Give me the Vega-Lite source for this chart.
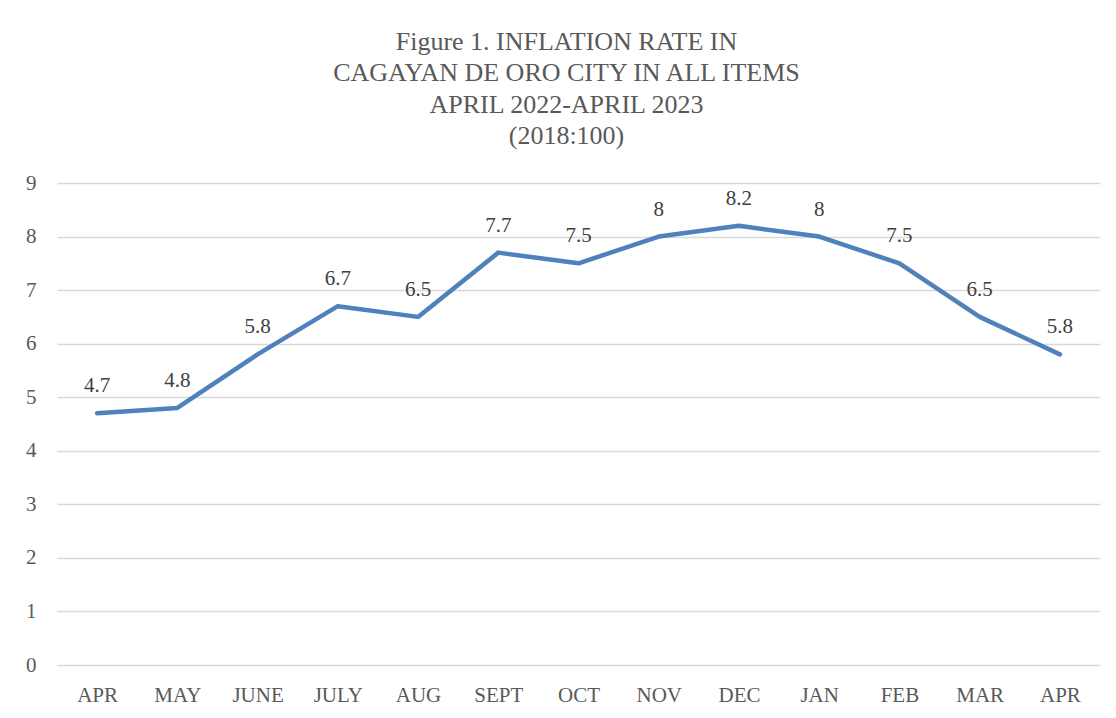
{
  "$schema": "https://vega.github.io/schema/vega-lite/v6.json",
  "width": 1043,
  "height": 482,
  "autosize": {"type": "none"},
  "padding": {"left": 57, "top": 183, "right": 16, "bottom": 53},
  "background": "white",
  "title": {
    "text": ["Figure 1. INFLATION RATE IN", "CAGAYAN DE ORO CITY IN ALL ITEMS", "APRIL 2022-APRIL 2023", "(2018:100)"],
    "font": "Liberation Serif",
    "fontSize": 26,
    "fontWeight": "normal",
    "color": "#595959",
    "lineHeight": 31.5,
    "anchor": "middle",
    "dx": -12,
    "offset": 23
  },
  "data": {
    "values": [
      {"month": "APR-22", "rate": 4.7},
      {"month": "MAY", "rate": 4.8},
      {"month": "JUNE", "rate": 5.8},
      {"month": "JULY", "rate": 6.7},
      {"month": "AUG", "rate": 6.5},
      {"month": "SEPT", "rate": 7.7},
      {"month": "OCT", "rate": 7.5},
      {"month": "NOV", "rate": 8},
      {"month": "DEC", "rate": 8.2},
      {"month": "JAN", "rate": 8},
      {"month": "FEB", "rate": 7.5},
      {"month": "MAR", "rate": 6.5},
      {"month": "APR-23", "rate": 5.8}
    ]
  },
  "encoding": {
    "x": {
      "field": "month",
      "type": "ordinal",
      "sort": null,
      "scale": {"type": "point", "padding": 0.5},
      "axis": {
        "title": null,
        "labelAngle": 0,
        "labelExpr": "split(datum.label, '-')[0]",
        "labelFont": "Liberation Serif",
        "labelFontSize": 21,
        "labelColor": "#595959",
        "labelPadding": 19,
        "ticks": false,
        "domain": false,
        "grid": false
      }
    },
    "y": {
      "field": "rate",
      "type": "quantitative",
      "scale": {"domain": [0, 9], "nice": false},
      "axis": {
        "title": null,
        "values": [0, 1, 2, 3, 4, 5, 6, 7, 8, 9],
        "labelFont": "Liberation Serif",
        "labelFontSize": 21,
        "labelColor": "#595959",
        "labelPadding": 21,
        "ticks": false,
        "domain": false,
        "grid": true,
        "gridColor": "#d9d9d9",
        "gridWidth": 1.3
      }
    }
  },
  "layer": [
    {
      "mark": {"type": "line", "color": "#4f81bd", "strokeWidth": 4.5, "strokeCap": "round", "strokeJoin": "round"}
    },
    {
      "mark": {"type": "text", "font": "Liberation Serif", "fontSize": 21, "color": "#404040", "baseline": "alphabetic", "dy": -21},
      "encoding": {"text": {"field": "rate", "type": "quantitative"}}
    }
  ],
  "config": {"view": {"stroke": null}}
}
